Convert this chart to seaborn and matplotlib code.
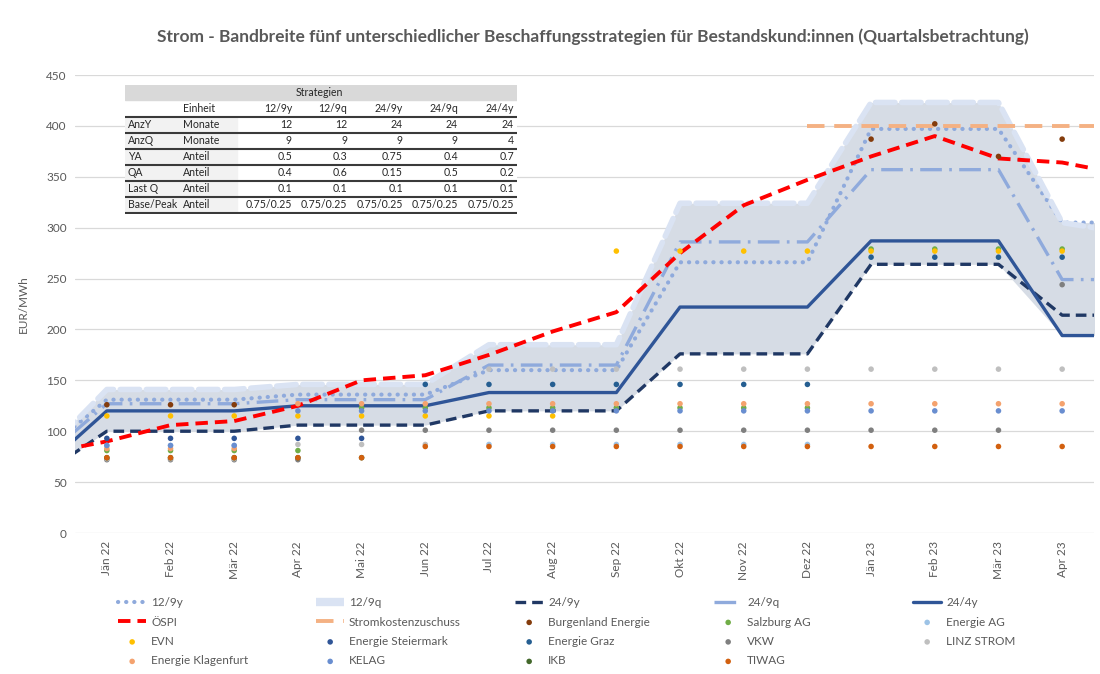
import numpy as np
import pandas as pd
import matplotlib.pyplot as plt
import seaborn as sns

nan = np.nan

# months incl. one hidden month at each end (lines run out to the plot edges)
months = ["Dez 21", "Jän 22", "Feb 22", "Mär 22", "Apr 22", "Mai 22", "Jun 22",
          "Jul 22", "Aug 22", "Sep 22", "Okt 22", "Nov 22", "Dez 22",
          "Jän 23", "Feb 23", "Mär 23", "Apr 23", "Mai 23"]
shown_months = months[1:-1]

# strategies (EUR/MWh)
s_12_9y = [79, 131, 131, 131, 136, 136, 136, 160, 160, 160, 266, 266, 266, 397, 397, 397, 305, 305]
s_12_9q = [77, 141, 141, 141, 146, 146, 146, 185, 185, 185, 324, 324, 324, 423, 423, 423, 305, 295]
s_24_9y = [58, 100, 100, 100, 106, 106, 106, 120, 120, 120, 176, 176, 176, 264, 264, 264, 214, 214]
s_24_9q = [73, 127, 127, 127, 131, 131, 131, 165, 165, 165, 286, 286, 286, 357, 357, 357, 249, 249]
s_24_4y = [64, 120, 120, 120, 125, 125, 125, 138, 138, 138, 222, 222, 222, 287, 287, 287, 194, 194]
oespi = [78, 90, 106, 110, 125, 150, 155, 175, 198, 217, 275, 322, 347, 370, 390, 368, 364, 352]
zuschuss = [nan] * 12 + [400] * 6

# supplier prices, Jän 22 .. Apr 23
burgenland = [126, 126, 126, nan, nan, nan, nan, nan, nan, nan, nan, nan, 387, 402, 370, 387]
salzburg = [81, 81, 81, 81, 123, 123, 123, 123, 123, 123, 123, 123, 279, 279, 279, 279]
energie_ag = [86, 86, 86, nan, nan, nan, 87, 87, 87, 87, 87, 87, nan, nan, nan, nan]
evn = [115, 115, 115, 115, 115, 115, 115, 115, 277, 277, 277, 277, 277, 277, 277, 277]
steiermark = [93, 93, 93, 93, 93, nan, nan, nan, nan, nan, nan, nan, nan, nan, nan, nan]
graz = [nan, nan, nan, nan, nan, 146, 146, 146, 146, 146, 146, 146, 271, 271, 271, 271]
vkw = [72, 72, 72, 72, 101, 101, 101, 101, 101, 101, 101, 101, 101, 101, 101, 244]
linz = [73, 73, 73, 87, 87, 87, 161, 161, 161, 161, 161, 161, 161, 161, 161, 161]
klagenfurt = [83, 83, 83, 127, 127, 127, 127, 127, 127, 127, 127, 127, 127, 127, 127, 127]
kelag = [86, 86, 86, 120, 120, 120, 120, 120, 120, 120, 120, 120, 120, 120, 120, 120]
ikb = [74, 74, 74, 74, 74, nan, nan, nan, nan, nan, nan, nan, nan, nan, nan, nan]
tiwag = [74, 74, 74, 74, 74, 85, 85, 85, 85, 85, 85, 85, 85, 85, 85, 85]

# table
tbl_title = "Strategien"
tbl_cols = ["12/9y", "12/9q", "24/9y", "24/9q", "24/4y"]
tbl_rows = ["AnzY", "AnzQ", "YA", "QA", "Last Q", "Base/Peak"]
tbl_units = ["Monate", "Monate", "Anteil", "Anteil", "Anteil", "Anteil"]
tbl_values = [["12", "12", "24", "24", "24"],
              ["9", "9", "9", "9", "4"],
              ["0.5", "0.3", "0.75", "0.4", "0.7"],
              ["0.4", "0.6", "0.15", "0.5", "0.2"],
              ["0.1", "0.1", "0.1", "0.1", "0.1"],
              ["0.75/0.25"] * 5]

GREY = "#595959"


def main():
    sns.set_theme(style="white")
    plt.rcParams['font.family'] = ['Lato', 'DejaVu Sans']

    fig = plt.figure(figsize=(11, 6.74), dpi=100)
    ax = fig.add_axes([75 / 1100, 1 - 533 / 674, 1019 / 1100, 458 / 674])

    x = np.arange(len(months)) - 1
    xd = np.arange(len(shown_months))

    # band between lowest and highest strategy
    strat = np.array([s_12_9y, s_12_9q, s_24_9y, s_24_9q, s_24_4y], dtype=float)
    ax.fill_between(x, strat.min(axis=0), strat.max(axis=0), color="#D6DCE5", lw=0, zorder=1)

    lines = [
        ("12/9y", s_12_9y, dict(color="#8FAADC", lw=3, linestyle=(0, (0.05, 1.9)), dash_capstyle="round")),
        ("12/9q", s_12_9q, dict(color="#DAE3F3", lw=4, linestyle=(0, (3.5, 1.2)), dash_capstyle="round")),
        ("24/9y", s_24_9y, dict(color="#203864", lw=2.4, linestyle=(0, (3.2, 1.8)))),
        ("24/9q", s_24_9q, dict(color="#8FAADC", lw=2.4, linestyle=(0, (6.5, 2.2, 0.8, 2.2)))),
        ("24/4y", s_24_4y, dict(color="#2F5597", lw=2.4, linestyle="-")),
        ("ÖSPI", oespi, dict(color="#FF0000", lw=2.8, linestyle=(0, (3.2, 1.8)))),
        ("Stromkostenzuschuss", zuschuss, dict(color="#F4B183", lw=2.8, linestyle=(0, (4.5, 2.5)))),
    ]
    for i, (name, vals, kw) in enumerate(lines):
        sns.lineplot(x=x, y=vals, ax=ax, label=name, zorder=2 + i * 0.1, **kw)

    dots = [
        ("Burgenland Energie", burgenland, "#843C0C"),
        ("Salzburg AG", salzburg, "#70AD47"),
        ("Energie AG", energie_ag, "#9DC3E6"),
        ("EVN", evn, "#FFC000"),
        ("Energie Steiermark", steiermark, "#2F5597"),
        ("Energie Graz", graz, "#255E91"),
        ("VKW", vkw, "#7F7F7F"),
        ("LINZ STROM", linz, "#BFBFBF"),
        ("Energie Klagenfurt", klagenfurt, "#F4A26E"),
        ("KELAG", kelag, "#698ED0"),
        ("IKB", ikb, "#43682B"),
        ("TIWAG", tiwag, "#D2600F"),
    ]
    for name, vals, col in dots:
        sns.scatterplot(x=xd, y=vals, ax=ax, color=col, s=16, edgecolor="none",
                        label=name, zorder=5)

    handles, labels = ax.get_legend_handles_labels()
    ax.legend_.remove()
    # short light patch for the band line in the legend
    handles[1] = plt.Line2D([], [], color="#DAE3F3", lw=6, solid_capstyle="butt")

    ax.set_xlim(-0.5, 15.5)
    ax.set_ylim(0, 450)
    ax.set_yticks(range(0, 451, 50))
    ax.set_xticks(xd)
    ax.set_xticklabels(shown_months, rotation=90)
    ax.tick_params(axis="both", length=0, labelsize=8.5, labelcolor=GREY, pad=6)
    ax.yaxis.grid(True, color="#D9D9D9", lw=0.9)
    ax.set_axisbelow(True)
    for sp in ax.spines.values():
        sp.set_visible(False)
    ax.set_xlabel("")
    ax.set_ylabel("EUR/MWh", fontsize=8.5, color=GREY, labelpad=12)

    fig.text(593 / 1100, 1 - 37 / 674, "Strom - Bandbreite fünf unterschiedlicher Beschaffungsstrategien "
             "für Bestandskund:innen (Quartalsbetrachtung)",
             ha="center", va="center", fontsize=12.5, fontweight="bold", color=GREY)

    # legend: 5 equally spaced columns, filled row by row
    col_x = [118, 316, 515, 714, 913]
    for c in range(5):
        fig.legend(handles[c::5], labels[c::5], loc="upper left",
                   bbox_to_anchor=(col_x[c] / 1100, 1 - 597 / 674), frameon=False,
                   fontsize=8.5, labelcolor=GREY, handlelength=2.4, handletextpad=0.4,
                   labelspacing=0.72, borderaxespad=0, borderpad=0)

    # parameter table
    tx = fig.add_axes([125 / 1100, 1 - 214 / 674, 392 / 1100, 129 / 674])
    tx.set_xlim(0, 392)
    tx.set_ylim(129, 0)
    tx.axis("off")
    tx.add_patch(plt.Rectangle((0, 0), 392, 129, color="white", zorder=0))
    tx.add_patch(plt.Rectangle((0, 0), 392, 15, color="#D9D9D9", zorder=1))
    tx.add_patch(plt.Rectangle((0, 32), 112, 97, color="#F2F2F2", zorder=1))
    tfs = 7.6
    tcol = "#262626"
    num_right = [167, 222, 278, 333, 389]
    tx.text(194, 7.5, tbl_title, ha="center", va="center", fontsize=tfs, color=tcol, zorder=3)
    tx.text(58, 24, "Einheit", ha="left", va="center", fontsize=tfs, color=tcol, zorder=3)
    for j, cname in enumerate(tbl_cols):
        tx.text(num_right[j], 24, cname, ha="right", va="center", fontsize=tfs, color=tcol, zorder=3)
    for i, rname in enumerate(tbl_rows):
        yc = 40 + 16 * i
        tx.text(3, yc, rname, ha="left", va="center", fontsize=tfs, color=tcol, zorder=3)
        tx.text(58, yc, tbl_units[i], ha="left", va="center", fontsize=tfs, color=tcol, zorder=3)
        for j, v in enumerate(tbl_values[i]):
            tx.text(num_right[j], yc, v, ha="right", va="center", fontsize=tfs, color=tcol, zorder=3)
    for k in range(7):
        tx.plot([0, 392], [32 + 16 * k, 32 + 16 * k], color="#3A3A3A", lw=1.5, zorder=2)

    fig.savefig("out.png", dpi=100)


if __name__ == "__main__":
    main()
